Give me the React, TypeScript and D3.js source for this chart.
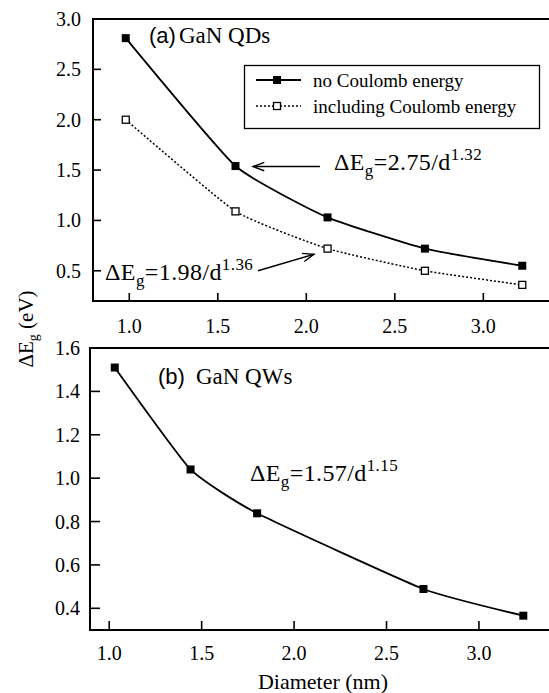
import React from "react";
import * as d3 from "d3";

// ---- Data ----
const qdDiameter = [0.98, 1.6, 2.12, 2.67, 3.22];
const qdNoCoulomb = [2.81, 1.54, 1.03, 0.72, 0.55];
const qdWithCoulomb = [2.0, 1.09, 0.72, 0.5, 0.36];

const qwDiameter = [1.03, 1.44, 1.8, 2.7, 3.24];
const qwGap = [1.51, 1.04, 0.838, 0.489, 0.366];

const xTicks = [1.0, 1.5, 2.0, 2.5, 3.0];
const yTicksA = [0.5, 1.0, 1.5, 2.0, 2.5, 3.0];
const yTicksB = [0.4, 0.6, 0.8, 1.0, 1.2, 1.4, 1.6];

const legendLabels = ["no Coulomb energy", "including Coulomb energy"];

const SERIF = '"Liberation Serif", "DejaVu Serif", "Times New Roman", Times, serif';
const SANS = '"Liberation Sans", Arial, Helvetica, sans-serif';

const W = 549;
const H = 693;

function arrowHead(x1: number, y1: number, x2: number, y2: number, len = 12, ang = 0.36) {
  const a = Math.atan2(y2 - y1, x2 - x1);
  const p1 = [x2 - len * Math.cos(a - ang), y2 - len * Math.sin(a - ang)];
  const p2 = [x2 - len * Math.cos(a + ang), y2 - len * Math.sin(a + ang)];
  return `M${p1[0]},${p1[1]}L${x2},${y2}L${p2[0]},${p2[1]}`;
}

const serif = (size: number) => ({ fontFamily: SERIF, fontSize: size });

function Formula({ x, y, coef, exp }: { x: number; y: number; coef: string; exp: string }) {
  return (
    <text x={x} y={y} style={{ fontFamily: SERIF, fontSize: 24, letterSpacing: 0.4 }}>
      ΔE<tspan style={{ fontSize: 17 }} dy={6}>g</tspan>
      <tspan dy={-6}>={coef}/d</tspan>
      <tspan style={{ fontSize: 17 }} dy={-10}>{exp}</tspan>
    </text>
  );
}

export default function App() {
  // Panel (a) scales
  const xA = d3.scaleLinear().domain([0.795, 3.371]).range([93, 549]);
  const yA = d3.scaleLinear().domain([0.2, 3.0]).range([301, 19]);
  // Panel (b) scales
  const xB = d3.scaleLinear().domain([0.896, 3.379]).range([90, 549]);
  const yB = d3.scaleLinear().domain([0.3, 1.6]).range([630, 348]);

  const curve = d3.curveCardinal.tension(0.55);
  const lineA1 = d3
    .line<number>()
    .x((_, i) => xA(qdDiameter[i]))
    .y((d) => yA(d))
    .curve(curve);
  const lineB = d3
    .line<number>()
    .x((_, i) => xB(qwDiameter[i]))
    .y((d) => yB(d))
    .curve(curve);

  const ms = 8; // filled marker size
  const mo = 7; // open marker size

  const [a1x1, a1y1, a1x2, a1y2] = [xA(2.077), yA(1.535), xA(1.699), yA(1.535)];
  const [a2x1, a2y1, a2x2, a2y2] = [xA(1.727), yA(0.5), xA(2.043), yA(0.664)];

  return (
    <svg width={W} height={H} style={{ position: "absolute", left: 0, top: 0, background: "#fff" }}>
      <rect x={0} y={0} width={W} height={H} fill="#fff" />

      {/* ================= Panel (a) ================= */}
      <g>
        <path
          d={`M${xA.range()[1]},${yA.range()[1]}H${xA.range()[0]}V${yA.range()[0]}H${xA.range()[1]}`}
          fill="none"
          stroke="#000"
          strokeWidth={2}
        />
        {yTicksA.map((t) => (
          <g key={"ya" + t}>
            <line x1={93} x2={101} y1={yA(t)} y2={yA(t)} stroke="#000" strokeWidth={1.6} />
            <text x={81} y={yA(t)} dy="0.35em" textAnchor="end" style={serif(20)}>
              {t.toFixed(1)}
            </text>
          </g>
        ))}
        {xTicks.map((t) => (
          <g key={"xa" + t}>
            <line x1={xA(t)} x2={xA(t)} y1={301} y2={293} stroke="#000" strokeWidth={1.6} />
            <text x={xA(t)} y={326} dy="0.35em" textAnchor="middle" style={serif(20)}>
              {t.toFixed(1)}
            </text>
          </g>
        ))}

        {/* Dotted series */}
        <path
          d={lineA1(qdWithCoulomb) || ""}
          fill="none"
          stroke="#000"
          strokeWidth={1.5}
          strokeDasharray="2,2"
        />
        {/* Solid series */}
        <path d={lineA1(qdNoCoulomb) || ""} fill="none" stroke="#000" strokeWidth={1.8} />

        {qdWithCoulomb.map((v, i) => (
          <rect
            key={"o" + i}
            x={xA(qdDiameter[i]) - mo / 2}
            y={yA(v) - mo / 2}
            width={mo}
            height={mo}
            fill="#fff"
            stroke="#000"
            strokeWidth={1.3}
          />
        ))}
        {qdNoCoulomb.map((v, i) => (
          <rect
            key={"f" + i}
            x={xA(qdDiameter[i]) - ms / 2}
            y={yA(v) - ms / 2}
            width={ms}
            height={ms}
            fill="#000"
          />
        ))}

        {/* Title */}
        <text x={149} y={43} style={{ fontSize: 22 }}>
          <tspan style={{ fontFamily: SANS }}>(a)</tspan>
          <tspan style={{ fontFamily: SERIF, fontSize: 23 }} dx={3}>
            GaN QDs
          </tspan>
        </text>

        {/* Legend */}
        <rect x={244.5} y={65.5} width={295} height={63} fill="#fff" stroke="#000" strokeWidth={1.3} />
        <line x1={256} x2={301} y1={80} y2={80} stroke="#000" strokeWidth={1.8} />
        <rect x={277 - ms / 2} y={80 - ms / 2} width={ms} height={ms} fill="#000" />
        <line x1={256} x2={301} y1={106} y2={106} stroke="#000" strokeWidth={1.5} strokeDasharray="2,2" />
        <rect x={277 - mo / 2} y={106 - mo / 2} width={mo} height={mo} fill="#fff" stroke="#000" strokeWidth={1.3} />
        <text x={313} y={86.5} style={serif(19)}>
          {legendLabels[0]}
        </text>
        <text x={313} y={112.5} style={serif(19)}>
          {legendLabels[1]}
        </text>

        {/* Annotations */}
        <line x1={a1x1} y1={a1y1} x2={a1x2} y2={a1y2} stroke="#000" strokeWidth={1.4} />
        <path d={arrowHead(a1x1, a1y1, a1x2, a1y2)} fill="none" stroke="#000" strokeWidth={1.4} />
        <Formula x={xA(2.156)} y={yA(1.505)} coef="2.75" exp="1.32" />

        <line x1={a2x1} y1={a2y1} x2={a2x2} y2={a2y2} stroke="#000" strokeWidth={1.4} />
        <path d={arrowHead(a2x1, a2y1, a2x2, a2y2)} fill="none" stroke="#000" strokeWidth={1.4} />
        <Formula x={xA(0.863)} y={yA(0.41)} coef="1.98" exp="1.36" />
      </g>

      {/* ================= Panel (b) ================= */}
      <g>
        <path
          d={`M${xB.range()[1]},${yB.range()[1]}H${xB.range()[0]}V${yB.range()[0]}H${xB.range()[1]}`}
          fill="none"
          stroke="#000"
          strokeWidth={2}
        />
        {yTicksB.map((t) => (
          <g key={"yb" + t}>
            <line x1={90} x2={100} y1={yB(t)} y2={yB(t)} stroke="#000" strokeWidth={1.6} />
            <text x={80} y={yB(t)} dy="0.35em" textAnchor="end" style={serif(20)}>
              {t.toFixed(1)}
            </text>
          </g>
        ))}
        {xTicks.map((t) => (
          <g key={"xb" + t}>
            <line x1={xB(t)} x2={xB(t)} y1={630} y2={621} stroke="#000" strokeWidth={1.6} />
            <text x={xB(t)} y={653} dy="0.35em" textAnchor="middle" style={serif(20)}>
              {t.toFixed(1)}
            </text>
          </g>
        ))}

        <path d={lineB(qwGap) || ""} fill="none" stroke="#000" strokeWidth={1.8} />
        {qwGap.map((v, i) => (
          <rect
            key={"b" + i}
            x={xB(qwDiameter[i]) - ms / 2}
            y={yB(v) - ms / 2}
            width={ms}
            height={ms}
            fill="#000"
          />
        ))}

        <text x={158} y={384} style={{ fontSize: 22 }}>
          <tspan style={{ fontFamily: SANS }}>(b)</tspan>
          <tspan style={{ fontFamily: SERIF, fontSize: 23 }} dx={11}>
            GaN QWs
          </tspan>
        </text>

        <Formula x={xB(1.761)} y={yB(0.985)} coef="1.57" exp="1.15" />

        <text x={323} y={689} textAnchor="middle" style={serif(22)}>
          Diameter (nm)
        </text>
      </g>

      {/* Shared y-axis title */}
      <text transform="translate(33,329) rotate(-90)" textAnchor="middle" style={serif(21)}>
        ΔE<tspan style={{ fontSize: 14 }} dy={5}>g</tspan>
        <tspan dy={-5}> (eV)</tspan>
      </text>
    </svg>
  );
}
